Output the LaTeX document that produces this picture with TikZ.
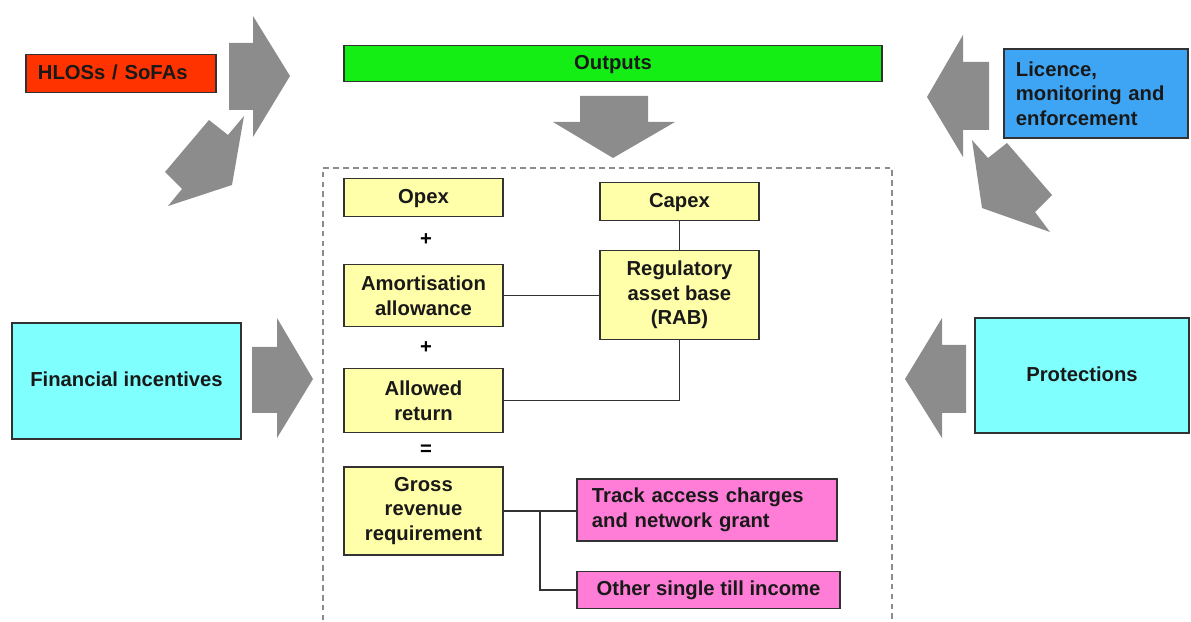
\documentclass[tikz,border=0pt]{standalone}
\usepackage{fontspec}
\setmainfont{Liberation Sans}
\usetikzlibrary{positioning,calc}
\definecolor{rouge}{RGB}{255,51,0}
\definecolor{vert}{RGB}{20,238,20}
\definecolor{bleu}{RGB}{62,165,245}
\definecolor{cyan}{RGB}{128,255,255}
\definecolor{jaune}{RGB}{255,255,170}
\definecolor{rose}{RGB}{255,125,215}
\definecolor{gris}{RGB}{140,140,140}
\definecolor{trait}{RGB}{50,50,50}

\begin{document}
\begin{tikzpicture}[x=0.025cm, y=-0.025cm,
    font=\fontsize{14.4}{17.5}\selectfont\bfseries,
    boite/.style={draw=trait, line width=0.9pt, inner sep=0pt, text=black!90, align=center},
    ligne/.style={text height=1.6ex, text depth=0pt},
    calcul/.style={boite, fill=jaune, minimum width=3.975cm},
    revenu/.style={boite, fill=rose},
    lien/.style={draw=trait, line width=0.8pt}]
  \useasboundingbox (0,0) rectangle (1191,622);

  % cadre du calcul
  \draw[gris, line width=1.2pt, dash pattern=on 4pt off 3pt]
    (323,640) -- (323,168) -- (892,168) -- (892,640);

  % fleches grises
  \fill[gris] (229,43) -- (253,43) -- (253,16) -- (290,76) -- (253,137) -- (253,110) -- (229,110) -- cycle;
  \fill[gris] (165,172) -- (209,120) -- (228,135) -- (244,116) -- (232,185) -- (168,206) -- (182,189) -- cycle;
  \fill[gris] (580,96) -- (648,96) -- (648,122) -- (675,122) -- (613,158) -- (553,122) -- (580,122) -- cycle;
  \fill[gris] (252,347) -- (277,347) -- (277,318) -- (313,379) -- (277,438) -- (277,413) -- (252,413) -- cycle;
  \fill[gris] (966,345) -- (942,345) -- (942,318) -- (905,379) -- (942,438) -- (942,413) -- (966,413) -- cycle;
  \fill[gris] (989,62) -- (963,62) -- (963,35) -- (927,97) -- (963,157) -- (963,130) -- (989,130) -- cycle;
  \fill[gris] (972,140) -- (988,158) -- (1007,143) -- (1052,195) -- (1035,212) -- (1050,232) -- (982,208) -- cycle;

  % entrees
  \node[boite, ligne, fill=rouge, minimum height=0.95cm, text width=4.15cm, inner xsep=0.3cm, align=left] (hlos) at (121,73.5) {HLOSs / SoFAs};
  \node[boite, ligne, fill=vert, minimum width=13.45cm, minimum height=0.9cm] (outputs) at (613,63.5) {Outputs};
  \node[boite, fill=bleu, minimum height=2.225cm, text width=4cm, inner xsep=0.3cm, align=left] (licence) at (1096,93.5) {Licence,\\monitoring and\\enforcement};
  \node[boite, ligne, fill=cyan, minimum width=5.725cm, minimum height=2.9cm] (incitations) at (126.5,381) {Financial incentives};
  \node[boite, ligne, fill=cyan, minimum width=5.35cm, minimum height=2.875cm] (protections) at (1082,375.5) {Protections};

  % blocs de calcul
  \node[calcul, ligne, minimum height=0.95cm] (opex) at (423.5,197.5) {Opex};
  \node[calcul, ligne, minimum height=0.95cm] (capex) at (679.5,201.5) {Capex};
  \node[calcul, minimum height=1.55cm] (amort) at (423.5,295.5) {Amortisation\\allowance};
  \node[calcul, minimum height=2.225cm] (rab) at (679.5,295) {Regulatory\\asset base\\(RAB)};
  \node[calcul, minimum height=1.6cm] (retour) at (423.5,400.5) {Allowed\\return};
  \node[calcul, minimum height=2.2cm] (brut) at (423.5,511) {Gross\\revenue\\requirement};
  \node (plus1) at (426,240) {+};
  \node (plus2) at (426,348) {+};
  \node (egal) at (426,450) {=};

  % recettes
  \node[revenu, minimum height=1.55cm, text width=5.75cm, inner xsep=0.375cm, align=left] (peages) at (707,510) {Track access charges\\and network grant};
  \node[revenu, ligne, minimum width=6.575cm, minimum height=0.925cm] (autres) at (708.5,590) {Other single till income};

  % liaisons
  \coordinate (fourche) at (540,510);
  \path[lien] (capex.south) -- (rab.north);
  \path[lien] (amort.east) -- (amort.east -| rab.west);
  \path[lien] (rab.south) |- (retour.east);
  \path[lien] (brut.east) -- (brut.east -| peages.west);
  \path[lien] (fourche) |- (autres.west);
\end{tikzpicture}
\end{document}
